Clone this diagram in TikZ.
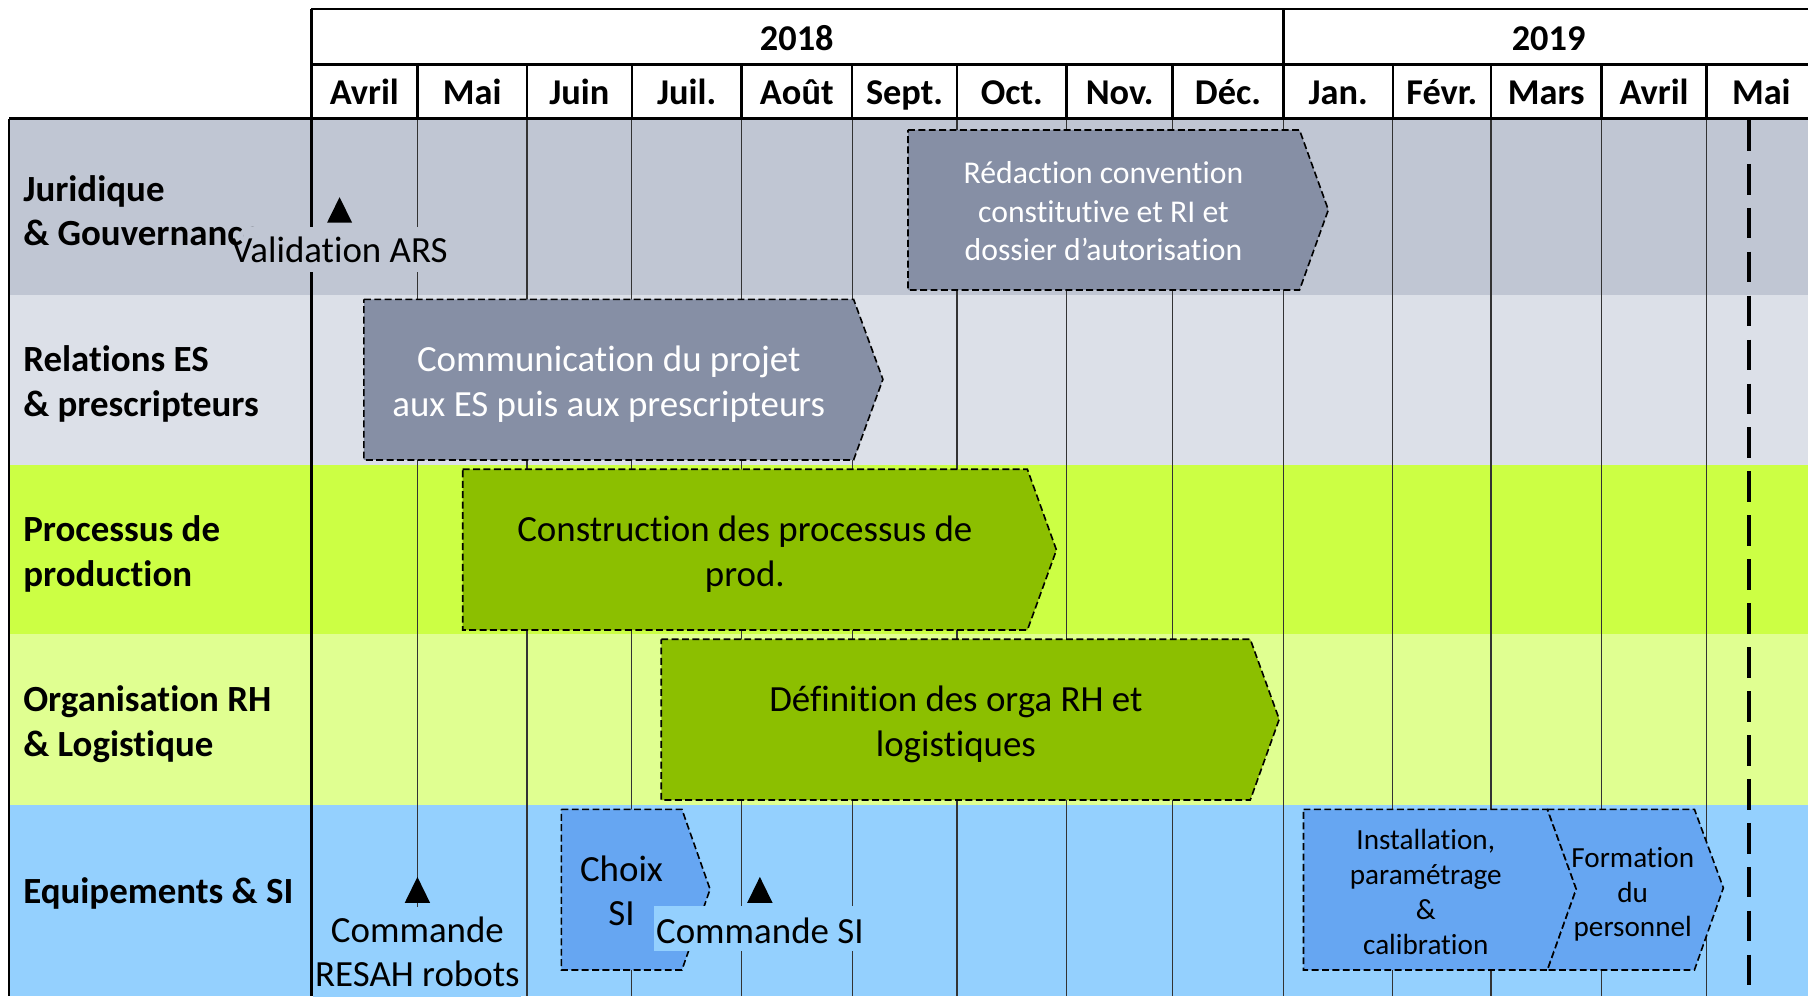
\documentclass[tikz,border=0pt]{standalone}
\usepackage{fontspec}
\setmainfont{Carlito}[Ligatures={NoCommon,NoRequired,NoContextual}]
\definecolor{laneA}{HTML}{C0C6D3}
\definecolor{laneB}{HTML}{DCE0E8}
\definecolor{laneC}{HTML}{CCFF44}
\definecolor{laneD}{HTML}{E0FF91}
\definecolor{laneE}{HTML}{94D0FE}
\definecolor{boxG}{HTML}{868FA5}
\definecolor{boxV}{HTML}{8CBF00}
\definecolor{boxB}{HTML}{66A6F2}
\begin{document}
\begin{tikzpicture}[x=1pt,y=-1pt,
  lanelbl/.style={font=\fontsize{32}{38.5}\selectfont\bfseries, align=left, inner sep=0pt, anchor=north west},
  hdr/.style={font=\fontsize{31.5}{38}\selectfont\bfseries, anchor=base, inner sep=0pt},
  txt/.style={font=\fontsize{32}{38.5}\selectfont, align=center, inner sep=0pt, anchor=north},
  smalltxt/.style={font=\fontsize{27.5}{33.2}\selectfont, align=center, inner sep=0pt, anchor=north},
  tinytxt/.style={font=\fontsize{25.3}{30.2}\selectfont, align=center, inner sep=0pt, anchor=north},
  taskbox/.style={draw=black, dash pattern=on 6pt off 3pt, line width=1.4pt},
  gridline/.style={line width=1pt, draw=black!80},
  frameline/.style={line width=2.2pt, draw=black},
  marker/.style={fill=black, draw=none},
  milestone/.style={font=\fontsize{32}{38.5}\selectfont, inner ysep=0pt, inner xsep=1.5pt}
]
\useasboundingbox (0,0) rectangle (1568,864);
% lanes
\fill[laneA] (8,103) rectangle (1568,256);
\fill[laneB] (8,256) rectangle (1568,403);
\fill[laneC] (8,403) rectangle (1568,550);
\fill[laneD] (8,550) rectangle (1568,698);
\fill[laneE] (8,698) rectangle (1568,864);
% body grid
\foreach \x in {362,457,548,643,739,830,925,1017,1113,1208,1293,1389,1480}
  \draw[gridline] (\x,103) -- (\x,864);
% header frame
\draw[frameline] (270,8) -- (1568,8);
\draw[frameline] (270,56) -- (1568,56);
\draw[frameline] (8,103) -- (1568,103);
\draw[frameline] (270,8) -- (270,864);
\draw[frameline] (8,103) -- (8,864);
\draw[frameline] (1113,8) -- (1113,56);
\foreach \x in {362,457,548,643,739,830,925,1017,1113,1208,1293,1389,1480}
  \draw[frameline] (\x,56) -- (\x,103);
% today line
\draw[line width=3.5pt, dash pattern=on 26.6pt off 11.5pt] (1517,104) -- (1517,864);
% header text
\node[hdr] (y2018) at (691,43.4) {2018};
\node[hdr] (y2019) at (1343,43.4) {2019};
\foreach \x/\m/\n in {316/Avril/m1,409.5/Mai/m2,502.5/Juin/m3,595.5/Juil./m4,691/Août/m5,784.5/Sept./m6,877.5/Oct./m7,971/Nov./m8,1065/Déc./m9,1160.5/Jan./m10,1250.5/Févr./m11,1341/Mars/m12,1434.5/Avril/m13,1527.5/Mai/m14}
  \node[hdr] (\n) at (\x,90.2) {\m};
% lane labels
\node[lanelbl] (l1) at (20,147.2) {\strut Juridique\\\strut \& Gouvernance};
\node[lanelbl] (l2) at (20,295.3) {\strut Relations ES\\\strut \& prescripteurs};
\node[lanelbl] (l3) at (20,442.7) {\strut Processus de\\\strut production};
\node[lanelbl] (l4) at (20,590.2) {\strut Organisation RH\\\strut \& Logistique};
\node[lanelbl, anchor=base west] (l5) at (20,783.6) {Equipements \& SI};
% task boxes
\draw[taskbox, fill=boxG] (787.5,112.7) -- (1127,112.7) -- (1152,182) -- (1127,251.5) -- (787.5,251.5) -- cycle;
\draw[taskbox, fill=boxG] (315.6,259.6) -- (740.3,259.6) -- (765.7,329) -- (740.3,398.9) -- (315.6,398.9) -- cycle;
\draw[taskbox, fill=boxV] (401.3,407) -- (891,407) -- (916.2,477) -- (891,546.4) -- (401.3,546.4) -- cycle;
\draw[taskbox, fill=boxV] (573.5,554.4) -- (1084.3,554.4) -- (1109.4,623.8) -- (1084.3,693.8) -- (573.5,693.8) -- cycle;
\draw[taskbox, fill=boxB] (486.9,701.9) -- (591.4,701.9) -- (615.8,771.2) -- (591.4,841.2) -- (486.9,841.2) -- cycle;
\draw[taskbox, fill=boxB] (1130.5,701.9) -- (1342,701.9) -- (1367,771) -- (1342,841.2) -- (1130.5,841.2) -- cycle;
\draw[taskbox, fill=boxB] (1342,701.9) -- (1469.5,701.9) -- (1494.6,770) -- (1469.5,841.2) -- (1342,841.2) -- (1367,771) -- cycle;
% task texts
\node[smalltxt, text=white] (t1) at (957,136) {\strut Rédaction convention\\\strut constitutive et RI et\\\strut dossier d’autorisation};
\node[txt, text=white] (t2) at (528,295.3) {\strut Communication du projet\\\strut aux ES puis aux prescripteurs};
\node[txt] (t3) at (646,442.7) {\strut Construction des processus de\\\strut prod.};
\node[txt] (t4) at (829,590.2) {\strut Définition des orga RH et\\\strut logistiques};
\node[txt] (t5) at (539,737) {\strut Choix\\\strut SI};
\node[tinytxt] (t6) at (1236.5,715.5) {\strut Installation,\\\strut paramétrage\\\strut \&\\\strut calibration};
\node[tinytxt] (t7) at (1416,730.8) {\strut Formation\\\strut du\\\strut personnel};
% milestones
\fill[marker] (283.7,193) -- (305.3,193) -- (294.5,171) -- cycle;
\fill[marker] (351,783) -- (373,783) -- (362,760.5) -- cycle;
\fill[marker] (648,783) -- (670,783) -- (659,760.5) -- cycle;
\node[fill=laneA, minimum width=178pt, minimum height=39pt, inner sep=0pt] (ms1bg) at (301,216.5) {};
\node[milestone, anchor=base] (ms1) at (294.5,228) {Validation ARS};
\node[milestone, fill=laneE, anchor=base, text height=32pt, text depth=7pt] (ms3) at (659,818) {Commande SI};
\node[milestone, fill=laneE, anchor=north, align=center, inner ysep=4pt] (ms2) at (362,786) {\strut Commande\\\strut RESAH robots};
\end{tikzpicture}
\end{document}
